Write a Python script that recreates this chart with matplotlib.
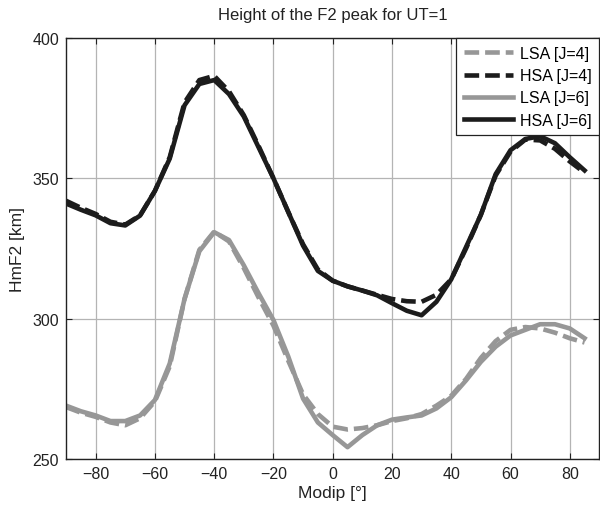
import matplotlib
matplotlib.use("Agg")
import matplotlib.pyplot as plt

plt.rcParams['font.family'] = ['Liberation Sans', 'DejaVu Sans']

modip = [-90, -85, -80, -75, -70, -65, -60, -55, -50, -45, -40, -35, -30, -25, -20,
         -15, -10, -5, 0, 5, 10, 15, 20, 25, 30, 35, 40, 45, 50, 55, 60, 65, 70,
         75, 80, 85]

lsa_j4 = [268.5, 266.5, 265.0, 263.0, 262.0, 264.5, 270.5, 283.0, 307.0, 324.5,
          331.0, 327.5, 318.0, 307.5, 297.5, 285.0, 273.0, 266.0, 261.5, 260.5,
          261.0, 262.0, 263.5, 264.5, 266.0, 269.0, 272.5, 278.5, 286.0, 292.0,
          296.0, 297.0, 296.5, 295.0, 293.0, 291.5]

hsa_j4 = [342.0, 339.5, 337.3, 334.5, 333.5, 336.8, 345.5, 357.5, 377.0, 385.0,
          386.5, 381.0, 372.5, 361.5, 350.0, 338.0, 326.5, 317.5, 313.5, 311.5,
          310.0, 308.5, 307.0, 306.2, 306.0, 308.5, 314.0, 325.0, 337.0, 351.0,
          359.5, 363.8, 363.5, 360.5, 356.0, 352.0]

lsa_j6 = [269.0, 267.0, 265.5, 263.5, 263.5, 265.5, 271.0, 284.0, 307.0, 324.0,
          330.8, 328.0, 319.0, 309.0, 299.5, 286.5, 271.5, 263.0, 258.5, 254.2,
          258.5, 262.0, 264.0, 264.8, 265.5, 268.0, 272.0, 278.0, 284.6, 290.0,
          294.0, 296.0, 298.0, 298.0, 296.5, 293.0]

hsa_j6 = [341.0, 338.8, 336.8, 334.0, 333.2, 336.7, 345.5, 357.0, 376.0, 383.6,
          385.0, 380.0, 372.0, 361.0, 350.0, 338.0, 326.0, 317.0, 313.5, 311.5,
          310.0, 308.3, 305.5, 302.8, 301.2, 306.0, 314.0, 325.5, 337.0, 351.5,
          360.0, 364.0, 365.0, 362.5, 357.5, 352.8]

labels = ['LSA [J=4]', 'HSA [J=4]', 'LSA [J=6]', 'HSA [J=6]']

gray = '#979797'
black = '#1c1c1c'
txt = '#222222'

fig = plt.figure(figsize=(6.0, 5.06), dpi=100)
ax = fig.add_axes([0.11, 0.091, 0.889, 0.832])

lw = 3.3
ax.plot(modip, lsa_j4, color=gray, lw=lw, dashes=(3.2, 1.3), label=labels[0])
ax.plot(modip, hsa_j4, color=black, lw=lw, dashes=(3.2, 1.3), label=labels[1])
ax.plot(modip, lsa_j6, color=gray, lw=lw, label=labels[2])
ax.plot(modip, hsa_j6, color=black, lw=lw, label=labels[3])

ax.set_xlim(-90, 90)
ax.set_ylim(250, 400)
ax.set_xticks([-80, -60, -40, -20, 0, 20, 40, 60, 80])
ax.set_yticks([250, 300, 350, 400])
ax.grid(True, color='#b4b4b4', lw=0.9, ls='-')
ax.set_axisbelow(True)
ax.tick_params(direction='in', top=True, right=True, length=4, width=0.8,
               labelsize=11.5, colors=txt, labelcolor=txt, pad=5)
for s in ax.spines.values():
    s.set_linewidth(1.0)
    s.set_color(txt)

ax.set_title('Height of the F2 peak for UT=1', fontsize=12, color=txt, pad=14)
ax.set_xlabel('Modip [°]', fontsize=12.5, color=txt, labelpad=3)
ax.set_ylabel('HmF2 [km]', fontsize=12.5, color=txt, labelpad=5)

leg = ax.legend(loc='upper right', borderaxespad=0, fancybox=False,
                edgecolor=txt, framealpha=1, fontsize=11.5,
                handlelength=3.1, handletextpad=0.4, labelspacing=0.45,
                borderpad=0.5)
leg.get_frame().set_linewidth(0.9)

fig.savefig('out.png', dpi=100)
